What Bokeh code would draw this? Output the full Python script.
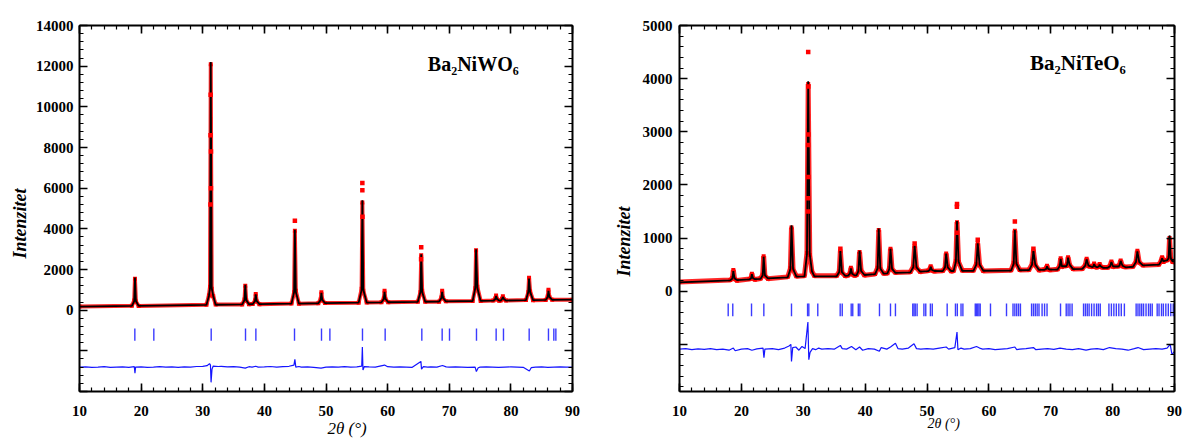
from bokeh.plotting import figure
from bokeh.models import Range1d, FixedTicker, LinearAxis, Label, CustomJSTickFormatter, Title
from bokeh.layouts import row
from bokeh.embed import file_html
from bokeh.resources import INLINE

# ---------------- data: Ba2NiWO6 (left) ----------------
LEFT_TT = [10,
    18.5, 18.88, 19.0, 19.15, 19.6,
    30.6, 31.0, 31.18, 31.3, 31.45, 31.7, 32.1,
    36.4, 36.78, 36.9, 37.05, 37.5,
    38.1, 38.48, 38.6, 38.75, 39.2,
    44.4, 44.83, 44.95, 45.1, 45.6,
    48.75, 49.13, 49.25, 49.4, 49.85,
    55.3, 55.78, 55.9, 56.05, 56.6,
    59.0, 59.38, 59.5, 59.65, 60.1,
    64.9, 65.33, 65.45, 65.6, 66.1,
    68.35, 68.73, 68.85, 69.0, 69.45,
    73.8, 74.23, 74.35, 74.55, 75.1,
    77.15, 77.48, 77.6, 77.75, 78.1,
    78.35, 78.58, 78.7, 78.85, 79.2,
    82.45, 82.83, 82.95, 83.12, 83.6,
    85.65, 85.98, 86.1, 86.25, 86.7,
    90]
LEFT_CALC = [170,
    207, 450, 1600, 450, 212,
    260, 700, 1100, 12200, 1100, 700, 267,
    286, 500, 1250, 500, 290,
    294, 450, 780, 450, 298,
    320, 900, 3950, 900, 326,
    340, 500, 850, 500, 345,
    370, 1000, 5400, 1000, 375,
    385, 550, 900, 550, 390,
    410, 900, 2750, 900, 415,
    427, 600, 900, 600, 430,
    450, 1100, 3000, 1100, 455,
    466, 550, 700, 550, 470,
    471, 550, 650, 550, 474,
    490, 900, 1550, 900, 494,
    503, 650, 950, 650, 507,
    520]
LEFT_OBS = [180,
    215, 470, 1550, 430, 205,
    270, 720, 1150, 12100, 1050, 680, 275,
    280, 520, 1200, 480, 295,
    300, 470, 800, 430, 290,
    330, 880, 3900, 950, 320,
    345, 520, 880, 480, 350,
    365, 1050, 5300, 950, 380,
    390, 570, 950, 530, 385,
    415, 880, 2700, 950, 410,
    420, 620, 950, 580, 435,
    455, 1080, 2950, 1150, 450,
    470, 570, 720, 530, 465,
    475, 560, 680, 540, 470,
    495, 880, 1600, 920, 490,
    498, 670, 1000, 630, 510,
    515]
LEFT_OBS_EXTRA_TT = [31.28, 31.26, 31.34, 31.33, 31.25, 44.95, 55.9, 55.9, 55.92, 65.45, 65.43]
LEFT_OBS_EXTRA_I = [10600, 8600, 7800, 6000, 5200, 4400, 6250, 5900, 4600, 3100, 2500]
LEFT_BRAGG = [18.98, 22.06, 31.37, 36.94, 38.62, 44.89, 49.27, 50.63, 55.92, 59.6,
              65.55, 68.85, 70.04, 74.42, 77.61, 78.8, 82.97, 86.1, 86.97, 87.3]
LEFT_DIFF_TT = [10, 11, 12, 13, 14, 15, 16, 17, 18, 18.9, 19.0, 19.1, 20, 21, 22, 23, 24, 25,
                26, 27, 28, 29, 30, 30.7, 31.1, 31.25, 31.35, 31.5, 31.7, 32.5, 33, 34, 35, 36,
                36.9, 37.5, 38, 38.6, 39, 40, 41, 42, 43, 44, 44.8, 44.95, 45.1, 45.6, 46, 47,
                48, 49.2, 50, 51, 52, 53, 54, 55, 55.8, 55.9, 56.0, 56.2, 57, 58, 59.5, 60, 61,
                62, 63, 64, 65.4, 65.5, 65.8, 66.5, 67, 68, 68.9, 69.5, 70, 71, 72, 73, 74.2,
                74.4, 74.7, 75, 76, 77, 78, 79, 80, 81, 82, 83, 83.3, 84, 85, 86, 87, 88, 89, 90]
LEFT_DIFF = [-2800, -2790, -2810, -2800, -2780, -2810, -2800, -2790, -2810, -2780, -3100, -2800,
             -2790, -2810, -2800, -2780, -2800, -2790, -2810, -2790, -2800, -2770, -2760, -2730,
             -2630, -2700, -3550, -2900, -2750, -2770, -2760, -2790, -2780, -2800, -2850, -2780,
             -2800, -2760, -2800, -2790, -2770, -2800, -2780, -2760, -2700, -2420, -2800, -2770,
             -2800, -2790, -2810, -2850, -2800, -2790, -2800, -2780, -2800, -2790, -2750, -1810,
             -2940, -2780, -2790, -2800, -2700, -2780, -2800, -2790, -2800, -2810, -2520, -2900,
             -2780, -2800, -2790, -2800, -2720, -2790, -2800, -2790, -2800, -2810, -2800, -3020,
             -2830, -2800, -2790, -2800, -2810, -2800, -2790, -2800, -2810, -2990, -2830, -2800,
             -2790, -2810, -2800, -2790, -2800, -2800]

# ---------------- data: Ba2NiTeO6 (right) ----------------
RIGHT_TT = [10,
    18.2, 18.55, 18.7, 18.9, 19.3,
    21.3, 21.58, 21.7, 21.88, 22.2,
    23.1, 23.45, 23.6, 23.8, 24.3,
    27.5, 27.92, 28.1, 28.35, 28.9,
    30.2, 30.6, 30.8, 31.05, 31.4, 31.8,
    35.4, 35.82, 36.0, 36.25, 36.8,
    37.25, 37.55, 37.7, 37.9, 38.3,
    38.6, 38.92, 39.1, 39.35, 39.9,
    41.6, 42.02, 42.2, 42.45, 43.0,
    43.6, 43.92, 44.1, 44.35, 44.9,
    47.3, 47.78, 48.0, 48.3, 48.9,
    50.15, 50.45, 50.6, 50.8, 51.2,
    52.55, 52.92, 53.1, 53.35, 53.9,
    54.3, 54.67, 54.85, 55.1, 55.7,
    57.5, 57.98, 58.2, 58.5, 59.1,
    63.6, 64.02, 64.2, 64.45, 65.0,
    66.5, 66.98, 67.2, 67.5, 68.1,
    69.0, 69.27, 69.4, 69.58, 69.9,
    71.1, 71.45, 71.6, 71.8, 72.2,
    72.5, 72.65, 72.8, 73.05, 73.6,
    75.1, 75.58, 75.8, 76.1, 76.6,
    76.75, 76.88, 77.0, 77.2, 77.45,
    77.6, 77.78, 77.9, 78.1, 78.5,
    79.2, 79.6, 79.8, 80.05, 80.5,
    80.9, 81.1, 81.3, 81.6, 82.1,
    83.3, 83.78, 84.0, 84.3, 84.9,
    87.5, 87.82, 88.0, 88.2, 88.5,
    88.8, 89.05, 89.2, 89.4, 89.7,
    90]
RIGHT_CALC = [165,
    205, 240, 380, 240, 210,
    222, 245, 320, 245, 226,
    232, 300, 650, 300, 240,
    262, 420, 1240, 420, 275,
    280, 700, 3950, 700, 380, 280,
    282, 360, 760, 360, 290,
    293, 330, 430, 330, 298,
    298, 380, 760, 380, 305,
    320, 430, 1180, 430, 330,
    335, 420, 800, 420, 345,
    355, 450, 860, 450, 370,
    378, 400, 460, 400, 380,
    378, 450, 710, 450, 380,
    380, 560, 1320, 560, 382,
    383, 500, 900, 500, 385,
    390, 520, 1150, 520, 395,
    398, 500, 760, 500, 402,
    403, 420, 470, 420, 405,
    408, 470, 610, 470, 470,
    470, 500, 630, 500, 415,
    420, 480, 600, 480, 460,
    455, 465, 510, 465, 455,
    455, 465, 500, 465, 440,
    440, 470, 550, 470, 465,
    465, 480, 570, 480, 450,
    460, 550, 750, 550, 485,
    500, 560, 620, 560, 575,
    580, 620, 1050, 620, 560,
    570]
RIGHT_OBS = [175,
    210, 250, 400, 230, 200,
    230, 250, 330, 240, 220,
    240, 310, 660, 290, 235,
    270, 430, 1200, 410, 280,
    290, 720, 3900, 680, 370, 290,
    290, 370, 760, 350, 285,
    300, 340, 440, 320, 295,
    305, 370, 740, 390, 300,
    325, 440, 1150, 420, 335,
    340, 430, 800, 410, 350,
    360, 460, 850, 440, 365,
    385, 410, 470, 390, 375,
    385, 440, 710, 460, 375,
    385, 570, 1300, 550, 390,
    390, 510, 900, 490, 380,
    395, 530, 1140, 510, 400,
    405, 510, 760, 490, 395,
    410, 430, 480, 410, 400,
    415, 480, 620, 460, 475,
    475, 510, 640, 490, 420,
    425, 490, 610, 470, 465,
    460, 470, 520, 455, 450,
    460, 470, 510, 455, 445,
    445, 480, 560, 460, 470,
    470, 490, 580, 470, 455,
    465, 560, 760, 540, 490,
    505, 570, 640, 550, 580,
    585, 630, 1000, 610, 550,
    560]
RIGHT_OBS_EXTRA_TT = [30.8, 30.82, 30.84, 30.78, 30.83, 30.78, 30.8, 54.85, 54.83, 54.87,
                      64.2, 48.0, 58.2, 67.2, 36.0]
RIGHT_OBS_EXTRA_I = [4500, 3850, 2950, 2750, 2150, 1750, 1500, 1640, 1590, 1100,
                     1310, 900, 970, 800, 800]
RIGHT_BRAGG = [17.87, 18.61, 21.64, 23.63, 28.1, 30.7, 30.9, 32.35, 35.97, 36.3, 37.75, 38.0,
               38.9, 39.15, 42.32, 44.1, 44.9, 47.7, 47.9, 48.1, 48.4, 49.5, 49.8, 50.55, 50.85,
               53.26, 54.6, 54.9, 55.5, 55.8, 57.8, 58.0, 58.2, 58.4, 58.6, 60.26, 62.85, 63.9,
               64.2, 64.5, 64.8, 65.1, 66.9, 67.2, 67.5, 67.8, 68.1, 68.6, 69.0, 69.4, 71.58,
               72.5, 72.8, 73.1, 73.45, 75.3, 75.6, 75.9, 76.2, 76.6, 77.0, 77.4, 77.7, 78.0,
               79.4, 79.8, 80.2, 80.6, 81.0, 81.4, 81.9, 83.8, 84.1, 84.4, 84.7, 85.0, 85.4,
               85.8, 86.1, 86.4, 87.2, 87.5, 87.9, 88.2, 88.6, 89.0, 89.4, 89.8]
RIGHT_DIFF_TT = [10, 11, 12, 13, 14, 15, 16, 17, 18, 18.7, 19, 20, 21, 21.7, 22.5, 23.5, 23.65,
                 23.8, 25, 26, 27, 27.7, 28, 28.1, 28.3, 28.8, 29.3, 29.8, 30.3, 30.75, 30.9,
                 31.1, 31.5, 32, 32.5, 33, 34, 35, 36, 36.3, 37, 37.8, 38.5, 39.1, 39.6, 40.5,
                 41.5, 42.3, 42.6, 43.5, 44.1, 44.9, 45.3, 46, 47, 47.9, 48.3, 49, 50, 51, 52,
                 53.1, 53.5, 54.5, 54.85, 55.0, 55.5, 56, 57, 58, 58.5, 59, 60, 61, 62, 63, 64.2,
                 64.5, 65, 66, 67.2, 67.6, 68.5, 69.5, 70.5, 71.5, 72.5, 73.5, 74.5, 75.7, 76.5,
                 77.5, 78.5, 79.5, 80.5, 81.5, 82.5, 83.5, 84.1, 85, 86, 87, 88, 88.8, 89.3,
                 89.6, 90]
RIGHT_DIFF = [-1090, -1080, -1100, -1085, -1095, -1080, -1100, -1090, -1110, -1070, -1120,
              -1090, -1080, -1110, -1085, -1070, -1250, -1090, -1080, -1100, -1070, -1030,
              -1000, -1320, -1060, -1050, -1110, -1040, -1080, -580, -1290, -1150, -1080,
              -1100, -1070, -1090, -1080, -1090, -1020, -1080, -1090, -1040, -1100, -1050,
              -1110, -1080, -1090, -1130, -1060, -1090, -1050, -980, -1080, -1090, -1070,
              -990, -1080, -1090, -1080, -1090, -1070, -1050, -1090, -1060, -770, -1100,
              -1070, -1090, -1080, -1040, -1070, -1090, -1080, -1100, -1090, -1080, -1050,
              -1100, -1090, -1080, -1060, -1100, -1090, -1080, -1095, -1070, -1090, -1100,
              -1080, -1110, -1090, -1080, -1100, -1060, -1080, -1090, -1110, -1080, -1060,
              -1100, -1090, -1080, -1090, -1070, -1000, -1195, -1130]

X_TICKS = [10, 20, 30, 40, 50, 60, 70, 80, 90]
LEFT_Y_TICKS = [-4000, -2000, 0, 2000, 4000, 6000, 8000, 10000, 12000, 14000]
RIGHT_Y_TICKS = [-2000, -1000, 0, 1000, 2000, 3000, 4000, 5000]

SERIF = "Liberation Serif"


def style_axis(ax, ticker, labels, fmt=None):
    ax.ticker = ticker
    ax.axis_line_width = 2
    ax.axis_line_color = "black"
    ax.major_tick_in = 8
    ax.major_tick_out = 0
    ax.minor_tick_in = 4
    ax.minor_tick_out = 0
    ax.major_tick_line_color = "black"
    ax.major_tick_line_width = 1.6
    ax.minor_tick_line_color = "black"
    ax.minor_tick_line_width = 1.2
    if labels:
        ax.major_label_text_font = SERIF
        ax.major_label_text_font_style = "bold"
        ax.major_label_text_font_size = "15px"
        ax.major_label_text_color = "black"
        if fmt is not None:
            ax.formatter = fmt
    else:
        ax.formatter = CustomJSTickFormatter(code="return '';")
        ax.major_label_text_font_size = "1px"
        ax.major_label_standoff = 0


def make_title(text, side_kw, standoff, fallback):
    try:
        return Title(text=text, standoff=standoff, **side_kw)
    except Exception:
        return Title(text=text, standoff=fallback, **side_kw)


def make_panel(width, yr, ylo, yticks, ystep_minor, borders, tt, calc, obs, ex_tt, ex_i,
               bragg, b_top, b_bot, dtt, diff, obs_w, title, title_xy, title_size,
               x_standoff, y_standoff, ylab_offset, ylab_standoff, xlab_offset, xlab_size,
               xlab_standoff):
    p = figure(width=width, height=439, output_backend="svg", toolbar_location=None,
               x_range=Range1d(10, 90), y_range=Range1d(yr[0], yr[1]),
               min_border_left=borders[0], min_border_right=borders[1],
               min_border_top=borders[2], min_border_bottom=borders[3])
    p.grid.visible = False
    p.outline_line_color = None
    p.background_fill_color = "white"
    p.border_fill_color = "white"

    xt = FixedTicker(ticks=X_TICKS, minor_ticks=list(range(10, 91, 2)))
    yt = FixedTicker(ticks=yticks, minor_ticks=list(range(ylo, yr[1] + 1, ystep_minor)))
    yfmt = CustomJSTickFormatter(code="return tick < 0 ? '' : tick.toFixed(0);")
    style_axis(p.xaxis[0], xt, True)
    p.xaxis[0].major_label_standoff = x_standoff
    style_axis(p.yaxis[0], yt, True, yfmt)
    p.yaxis[0].major_label_standoff = y_standoff
    top = LinearAxis()
    style_axis(top, xt, False)
    p.add_layout(top, "above")
    right = LinearAxis()
    style_axis(right, yt, False)
    p.add_layout(right, "right")

    # observed (red band + points)
    p.line(tt, obs, line_color="#ff1010", line_width=obs_w, line_alpha=0.9)
    p.scatter(tt, obs, marker="square", size=4, fill_color="#ff0000", line_color=None)
    # calculated
    p.line(tt, calc, line_color="black", line_width=1.8)
    p.scatter(ex_tt, ex_i, marker="square", size=4.5, fill_color="#ff0000", line_color=None)
    # Bragg positions
    p.segment(x0=bragg, y0=[b_top] * len(bragg), x1=bragg, y1=[b_bot] * len(bragg),
              line_color="#3b3bff", line_width=1.4)
    # difference
    p.line(dtt, diff, line_color="#1515ff", line_width=1.2)

    p.add_layout(Label(x=title_xy[0], y=title_xy[1], text=title, text_font=SERIF,
                       text_font_style="bold", text_font_size=title_size, text_color="black",
                       text_align="center", text_baseline="middle"))
    p.add_layout(Title(text="Intenzitet", align="left", offset=ylab_offset,
                       standoff=ylab_standoff, text_font=SERIF, text_font_style="bold italic",
                       text_font_size="18px", text_color="black"), "left")
    xkw = dict(align="left", offset=xlab_offset, text_font=SERIF, text_font_style="italic",
               text_font_size=xlab_size, text_color="black")
    p.add_layout(make_title("2θ (°)", xkw, xlab_standoff, 0), "below")
    return p


left = make_panel(600, (-4000, 14000), -4000, LEFT_Y_TICKS, 400, (79, 28, 19, 48),
                  LEFT_TT, LEFT_CALC, LEFT_OBS, LEFT_OBS_EXTRA_TT, LEFT_OBS_EXTRA_I,
                  LEFT_BRAGG, -900, -1500, LEFT_DIFF_TT, LEFT_DIFF, 4,
                  "Ba₂NiWO₆", (73.9, 12100), "20px", 14, 6, 133, 5, 248, "17px", -3)
right = make_panel(584, (-1887, 5000), -2000, RIGHT_Y_TICKS, 200, (79, 10, 25, 43),
                   RIGHT_TT, RIGHT_CALC, RIGHT_OBS, RIGHT_OBS_EXTRA_TT, RIGHT_OBS_EXTRA_I,
                   RIGHT_BRAGG, -230, -470, RIGHT_DIFF_TT, RIGHT_DIFF, 5,
                   "Ba₂NiTeO₆", (74.4, 4300), "21px", 14, 7, 115, 12, 248, "14px", -10)

layout = row(left, right)
open("out.html", "w").write(file_html(layout, INLINE))
